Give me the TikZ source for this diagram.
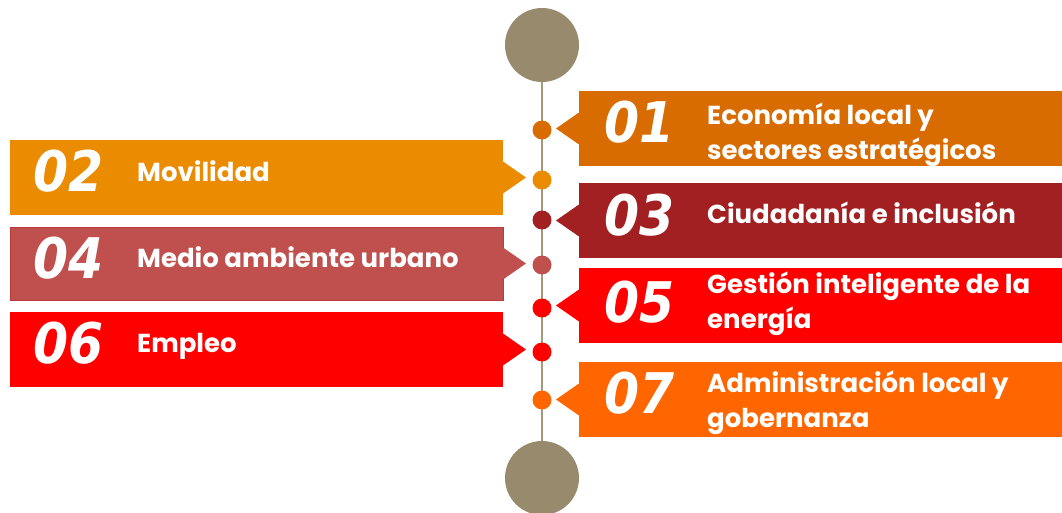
\documentclass[tikz,border=0pt]{standalone}
\usepackage{fontspec}
\setmainfont{Poppins}
\newfontfamily\numfont{DejaVu Sans Condensed}
\usetikzlibrary{calc}
\definecolor{cA}{HTML}{D96C00}
\definecolor{cB}{HTML}{EB8C00}
\definecolor{cC}{HTML}{A21F22}
\definecolor{cD}{HTML}{C0504D}
\definecolor{cDb}{HTML}{B83A3A}
\definecolor{cE}{HTML}{FF0000}
\definecolor{cF}{HTML}{FF0000}
\definecolor{cG}{HTML}{FF6600}
\definecolor{tan}{HTML}{988A6C}
\definecolor{stemc}{HTML}{A39878}
\begin{document}
\begin{tikzpicture}[x=1pt,y=-1pt,
  band/.style={rectangle, draw=none, inner sep=0pt, outer sep=0pt, minimum height=75, anchor=north west},
  rband/.style={band, minimum width=483},
  lband/.style={band, minimum width=493},
  bigdot/.style={circle, fill=tan, minimum size=74, inner sep=0pt, outer sep=0pt},
  dot/.style={circle, minimum size=19, inner sep=0pt, outer sep=0pt},
  stem/.style={draw=stemc, line width=2pt},
  num/.style={text=white, inner sep=0pt, anchor=base west, font={\numfont\fontsize{56}{60}\selectfont\bfseries\itshape}},
  lbl/.style={text=white, inner sep=0pt, anchor=base west, font={\fontsize{26}{35}\selectfont\bfseries}}
]
\useasboundingbox (0,0) rectangle (1062,513);
\clip (0,0) rectangle (1062,513);

% right bands
\node[rband, fill=cA] (b1) at (579,91) {};
\node[rband, fill=cC] (b3) at (579,183) {};
\node[rband, fill=cE] (b5) at (579,268) {};
\node[rband, fill=cG] (b7) at (579,362) {};
% left bands
\node[lband, fill=cB] (b2) at (10,140) {};
\node[lband, fill=cD, draw=cDb, line width=0.8pt, minimum height=73] (b4) at (10,227) {};
\node[lband, fill=cF] (b6) at (10,312) {};

% notches
\foreach \b/\c in {b1/cA, b3/cC, b5/cE, b7/cG}{
  \fill[\c] ($(\b.west)+(0,-16)$) -- ($(\b.west)+(-23,0)$) -- ($(\b.west)+(0,16)$) -- cycle;
}
\foreach \b/\c in {b2/cB, b4/cD, b6/cF}{
  \fill[\c] ($(\b.east)+(0,-16)$) -- ($(\b.east)+(23,0)$) -- ($(\b.east)+(0,16)$) -- cycle;
}

% timeline
\node[bigdot] (top) at (542,45) {};
\node[bigdot] (bot) at (542,478) {};
\draw[stem] (top) -- (bot);
\node[dot, fill=cA] (d1) at (542,130) {};
\node[dot, fill=cB] (d2) at (542,180) {};
\node[dot, fill=cC] (d3) at (542,220) {};
\node[dot, fill=cD] (d4) at (542,265) {};
\node[dot, fill=cE] (d5) at (542,308) {};
\node[dot, fill=cF] (d6) at (542,352) {};
\node[dot, fill=cG] (d7) at (542,400) {};

% numbers
\node[num] (n1) at (604,143) {01};
\node[num] (n3) at (604,235) {03};
\node[num] (n5) at (604,322) {05};
\node[num] (n7) at (604,413) {07};
\node[num] (n2) at (33,192) {02};
\node[num] (n4) at (33,278) {04};
\node[num] (n6) at (33,363) {06};

% labels
\node[lbl] (t1) at (707,125) {\vtop{\hbox{Economía local y}\hbox{sectores estratégicos}}};
\node[lbl] (t3) at (707,223) {Ciudadanía e inclusión};
\node[lbl] (t5) at (707,293) {\vtop{\hbox{Gestión inteligente de la}\hbox{energía}}};
\node[lbl] (t7) at (707,392) {\vtop{\hbox{Administración local y}\hbox{gobernanza}}};
\node[lbl] (t2) at (137,182) {Movilidad};
\node[lbl] (t4) at (137,267) {Medio ambiente urbano};
\node[lbl] (t6) at (137,352) {Empleo};
\end{tikzpicture}
\end{document}
